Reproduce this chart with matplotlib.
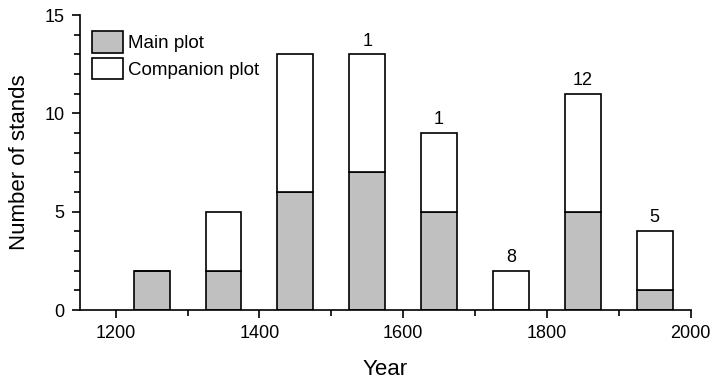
import numpy as np
import matplotlib.pyplot as plt
from matplotlib.ticker import MultipleLocator

plt.rcParams['font.family'] = ['Liberation Sans', 'DejaVu Sans']

years = [1250, 1350, 1450, 1550, 1650, 1750, 1850, 1950]
main_plot = [2, 2, 6, 7, 5, 0, 5, 1]
companion_plot = [0, 3, 7, 6, 4, 2, 6, 3]
top_labels = ['', '', '', '1', '1', '8', '12', '5']

fig = plt.figure(figsize=(7.12, 3.79), dpi=100)
ax = fig.add_axes([0.112, 0.182, 0.858, 0.778])

ax.bar(years, main_plot, width=50, color='#c0c0c0', edgecolor='black', linewidth=1.2, label='Main plot')
ax.bar(years, companion_plot, width=50, bottom=main_plot, color='white', edgecolor='black', linewidth=1.2, label='Companion plot')

totals = np.array(main_plot) + np.array(companion_plot)
for x, t, lab in zip(years, totals, top_labels):
    if lab:
        ax.text(x, t + 0.25, lab, ha='center', va='bottom', fontsize=13)

ax.set_xlim(1150, 2000)
ax.set_ylim(0, 15)
ax.spines['top'].set_visible(False)
ax.spines['right'].set_visible(False)
ax.spines['left'].set_linewidth(1.2)
ax.spines['bottom'].set_linewidth(1.2)
ax.xaxis.set_major_locator(MultipleLocator(200))
ax.xaxis.set_minor_locator(MultipleLocator(100))
ax.yaxis.set_major_locator(MultipleLocator(5))
ax.yaxis.set_minor_locator(MultipleLocator(1))
ax.tick_params(which='major', length=6, width=1.2, labelsize=13, pad=5)
ax.tick_params(which='minor', length=4, width=1.2)

ax.set_xlabel('Year', fontsize=16, labelpad=12)
ax.set_ylabel('Number of stands', fontsize=16, labelpad=10)

ax.legend(loc='upper left', bbox_to_anchor=(0.0, 0.986), frameon=False, fontsize=13.5,
          handlelength=1.65, handleheight=1.35, handletextpad=0.3, labelspacing=0.3,
          borderaxespad=0.3, borderpad=0.35)

fig.savefig('out.png', dpi=100)
